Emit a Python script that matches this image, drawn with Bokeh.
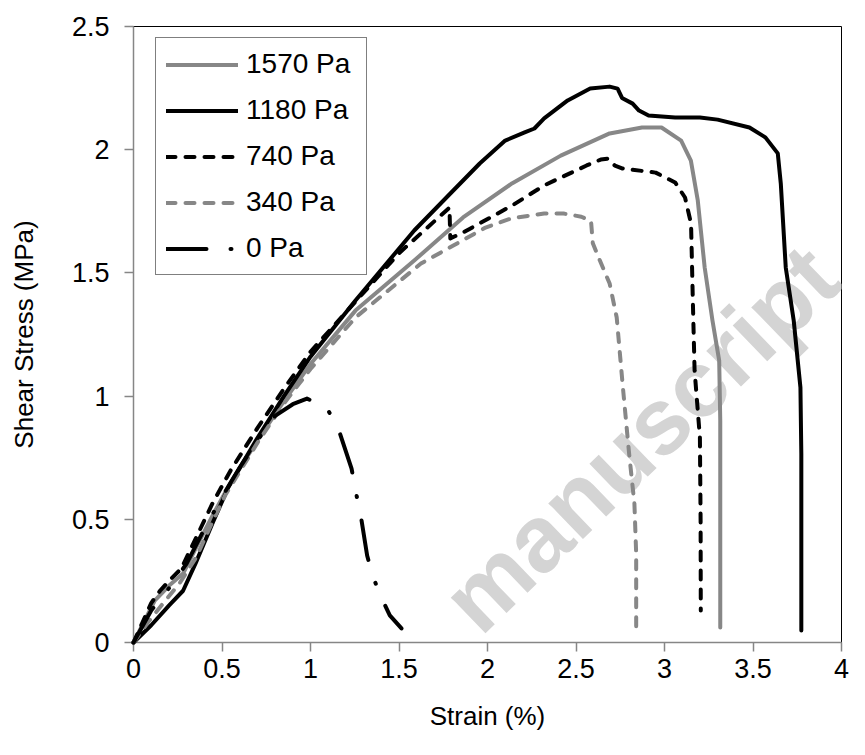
from bokeh.plotting import figure
from bokeh.models import Range1d, FixedTicker, Legend, LegendItem, Label
from bokeh.embed import file_html
from bokeh.resources import INLINE

# ---------------- data ----------------
x_ticks = [0, 0.5, 1, 1.5, 2, 2.5, 3, 3.5, 4]
x_tick_labels = ["0", "0.5", "1", "1.5", "2", "2.5", "3", "3.5", "4"]
y_ticks = [0, 0.5, 1, 1.5, 2, 2.5]
y_tick_labels = ["0", "0.5", "1", "1.5", "2", "2.5"]

series_names = ["1570 Pa", "1180 Pa", "740 Pa", "340 Pa", "0 Pa"]

s1570_x = [0, 0.05, 0.12, 0.2, 0.28, 0.35, 0.45, 0.55, 0.7, 0.85, 1.0, 1.254, 1.586, 1.862,
           2.138, 2.414, 2.69, 2.873, 2.983, 3.094, 3.149, 3.188, 3.227, 3.271, 3.309, 3.315, 3.315]
s1570_y = [0, 0.07, 0.17, 0.23, 0.28, 0.38, 0.52, 0.65, 0.82, 0.98, 1.13, 1.347, 1.55, 1.725,
           1.863, 1.976, 2.066, 2.09, 2.09, 2.037, 1.956, 1.794, 1.522, 1.307, 1.144, 0.90, 0.061]

s1180_x = [0, 0.1, 0.2, 0.28, 0.35, 0.45, 0.536, 0.7, 0.85, 1.0, 1.254, 1.586, 1.768, 1.956,
           2.1, 2.21, 2.265, 2.32, 2.453, 2.58, 2.69, 2.735, 2.76, 2.82, 2.856, 2.91, 3.06,
           3.2, 3.3, 3.48, 3.57, 3.64, 3.657, 3.685, 3.73, 3.768, 3.773, 3.773]
s1180_y = [0, 0.07, 0.15, 0.21, 0.32, 0.49, 0.63, 0.83, 1.0, 1.16, 1.388, 1.672, 1.806, 1.944,
           2.037, 2.07, 2.086, 2.127, 2.2, 2.248, 2.256, 2.248, 2.21, 2.187, 2.159, 2.139, 2.131,
           2.131, 2.122, 2.09, 2.05, 1.985, 1.863, 1.522, 1.307, 1.035, 0.767, 0.049]

s740_x = [0, 0.05, 0.1, 0.15, 0.2, 0.27, 0.35, 0.45, 0.55, 0.7, 0.85, 1.0, 1.25, 1.5, 1.785,
          1.79, 1.862, 2.138, 2.32, 2.56, 2.64, 2.68, 2.72, 2.76, 2.95, 3.06, 3.116, 3.15, 3.16,
          3.17, 3.2, 3.204, 3.205]
s740_y = [0, 0.08, 0.16, 0.21, 0.25, 0.3, 0.42, 0.57, 0.7, 0.87, 1.03, 1.18, 1.38, 1.58, 1.765,
          1.64, 1.664, 1.773, 1.855, 1.936, 1.96, 1.964, 1.935, 1.924, 1.907, 1.867, 1.806, 1.70,
          1.39, 1.104, 0.832, 0.495, 0.13]

s340_x = [0, 0.08, 0.166, 0.26, 0.354, 0.44, 0.52, 0.7, 0.85, 1.0, 1.254, 1.624, 1.807, 1.989,
          2.138, 2.32, 2.43, 2.53, 2.585, 2.595, 2.635, 2.69, 2.73, 2.765, 2.80, 2.83, 2.84, 2.84]
s340_y = [0, 0.08, 0.158, 0.24, 0.345, 0.48, 0.6, 0.81, 0.97, 1.11, 1.319, 1.538, 1.611, 1.684,
          1.722, 1.741, 1.741, 1.728, 1.71, 1.62, 1.55, 1.457, 1.319, 1.035, 0.767, 0.564, 0.36, 0.049]

s0_x = [0, 0.1, 0.2, 0.3, 0.4, 0.5, 0.6, 0.7, 0.8, 0.9, 0.98, 1.09, 1.155, 1.232, 1.254,
        1.282, 1.32, 1.354, 1.403, 1.448, 1.514]
s0_y = [0, 0.13, 0.22, 0.32, 0.46, 0.59, 0.71, 0.82, 0.92, 0.967, 0.99, 0.954, 0.873, 0.706,
        0.617, 0.524, 0.353, 0.264, 0.179, 0.11, 0.057]

# ---------------- figure ----------------
FONT = "Liberation Sans"
AXIS_GRAY = "#868686"

p = figure(width=849, height=739, output_backend="svg", toolbar_location=None,
           x_range=Range1d(0, 4), y_range=Range1d(0, 2.5),
           min_border_left=133, min_border_right=8, min_border_top=26, min_border_bottom=97,
           x_axis_label="Strain (%)", y_axis_label="Shear Stress (MPa)")

p.xgrid.visible = False
p.ygrid.visible = False
p.outline_line_color = "black"
p.outline_line_width = 1
p.background_fill_color = "white"
p.border_fill_color = "white"

p.xaxis.ticker = FixedTicker(ticks=x_ticks)
p.yaxis.ticker = FixedTicker(ticks=y_ticks)
p.xaxis.major_label_overrides = dict(zip(x_ticks, x_tick_labels))
p.yaxis.major_label_overrides = dict(zip(y_ticks, y_tick_labels))

for ax in (p.xaxis[0], p.yaxis[0]):
    ax.axis_line_color = AXIS_GRAY
    ax.axis_line_width = 1.5
    ax.major_tick_line_color = AXIS_GRAY
    ax.major_tick_line_width = 1.5
    ax.major_tick_out = 9
    ax.major_tick_in = 0
    ax.minor_tick_line_color = None
    ax.major_label_text_font = FONT
    ax.major_label_text_font_size = "27px"
    ax.major_label_text_color = "black"
    ax.axis_label_text_font = FONT
    ax.axis_label_text_font_size = "26px"
    ax.axis_label_text_font_style = "normal"
    ax.axis_label_text_color = "black"

p.xaxis.major_label_standoff = 7
p.yaxis.major_label_standoff = 15
p.xaxis.axis_label_standoff = 20
p.yaxis.axis_label_standoff = 30

# watermark, fully inside the plot area, beneath the data lines
wm = Label(x=689, y=380, x_units="screen", y_units="screen", text="manuscript",
           angle=0.768, text_align="right", text_baseline="alphabetic",
           text_font=FONT, text_font_size="94px", text_font_style="bold",
           text_color="#d4d4d4", level="annotation")
p.add_layout(wm)

common = dict(line_join="round", line_cap="round", level="overlay")
r1570 = p.line(s1570_x, s1570_y, line_color="#878787", line_width=4, **common)
r1180 = p.line(s1180_x, s1180_y, line_color="black", line_width=4, **common)
r740 = p.line(s740_x, s740_y, line_color="black", line_width=4, line_dash="9 10", **common)
r340 = p.line(s340_x, s340_y, line_color="#878787", line_width=4, line_dash="9 10", **common)
r0 = p.line(s0_x, s0_y, line_color="black", line_width=4, line_dash="40 24 1 24", **common)

renderers = [r1570, r1180, r740, r340, r0]
legend = Legend(items=[LegendItem(label=n, renderers=[r]) for n, r in zip(series_names, renderers)],
                location=(22, 367), orientation="vertical",
                label_text_font=FONT, label_text_font_size="28px", label_text_color="black",
                glyph_width=72, glyph_height=27, label_height=27, label_width=110,
                label_standoff=8, spacing=14, padding=10, margin=0,
                border_line_color="black", border_line_width=1.2,
                background_fill_color="white", background_fill_alpha=1.0)
p.add_layout(legend)

open("out.html", "w").write(file_html(p, INLINE))
